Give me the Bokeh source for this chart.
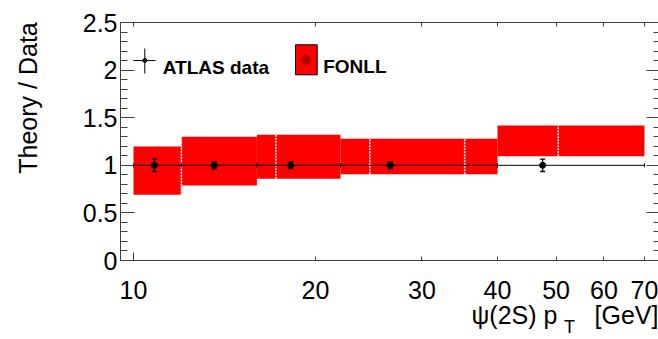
import numpy as np
from bokeh.plotting import figure
from bokeh.models import (FixedTicker, LinearAxis, LogAxis, Range1d, Label,
                          CustomJSTickFormatter, ColumnDataSource, Whisker, TeeHead)
from bokeh.embed import file_html
from bokeh.resources import INLINE

# ---------------- data ----------------
fonll_lo = [10, 12, 16, 22, 40]
fonll_hi = [12, 16, 22, 40, 70]
fonll_up = [1.197, 1.30, 1.32, 1.278, 1.418]
fonll_dn = [0.69, 0.788, 0.858, 0.905, 1.096]
fonll_seams = [12, 17.2, 24.6, 35.3, 50.4]

data_pt = [10.83, 13.6, 18.2, 26.6, 47.5]
data_lo = [10, 12, 16, 22, 40]
data_hi = [12, 16, 22, 40, 70]
data_ratio = [1.0, 1.0, 1.0, 1.0, 1.0]
data_err = [0.065, 0.037, 0.035, 0.035, 0.065]

x_ticks = [10, 20, 30, 40, 50, 60, 70]
y_ticks = [0, 0.5, 1, 1.5, 2, 2.5]
y_minor = [round(v, 2) for v in np.arange(0, 2.51, 0.1)]

y_title = "Theory / Data"
x_title_parts = ["\u03c8(2S) p", "[GeV]"]
x_title_sub = "T"

# ---------------- layout ----------------
W, H = 658, 339
DEC = 604.6  # px per decade
X0 = 10 ** (1 + (120 - 133) / DEC)
X1 = 10 ** (1 + (658 - 133) / DEC)
FONT = "Liberation Sans"
AX = "#404040"

p = figure(width=W, height=H, x_axis_type="log",
           x_range=Range1d(X0, X1), y_range=Range1d(0, 2.5),
           output_backend="svg", toolbar_location=None,
           min_border_left=120, min_border_right=0,
           min_border_top=22, min_border_bottom=79)
p.outline_line_color = None
p.grid.visible = False
p.background_fill_color = "white"
p.border_fill_color = "white"

fmt = CustomJSTickFormatter(code="return tick.toString();")
blank = CustomJSTickFormatter(code="return '';")


def dx(px):
    return 10 ** (1 + (px - 133) / DEC)


def dy(py):
    return (260 - py) / 95.2


# bottom axis
xa = p.xaxis[0]
xa.ticker = FixedTicker(ticks=x_ticks, minor_ticks=[10])
xa.formatter = fmt
xa.major_tick_in = 4
xa.major_tick_out = 0
xa.minor_tick_in = 8
xa.minor_tick_out = 0
xa.axis_line_color = AX
xa.major_tick_line_color = AX
xa.minor_tick_line_color = AX
xa.major_label_text_font = FONT
xa.major_label_text_font_size = "25px"
xa.major_label_text_color = "black"
xa.major_label_standoff = 20

# left axis
ya = p.yaxis[0]
ya.ticker = FixedTicker(ticks=y_ticks, minor_ticks=y_minor)
ya.formatter = fmt
ya.major_tick_in = 14
ya.major_tick_out = 0
ya.minor_tick_in = 7
ya.minor_tick_out = 0
ya.axis_line_color = AX
ya.major_tick_line_color = AX
ya.minor_tick_line_color = AX
ya.major_label_text_font = FONT
ya.major_label_text_font_size = "25px"
ya.major_label_text_color = "black"
ya.major_label_standoff = 3

# y-axis title: text-only axis, label centred on the upper part of the axis
yt_ax = LinearAxis(ticker=FixedTicker(ticks=[dy(97.5)], minor_ticks=[]),
                   formatter=CustomJSTickFormatter(args=dict(labels=[y_title]),
                                                   code="return labels[index];"),
                   major_tick_in=0, major_tick_out=0, minor_tick_in=0, minor_tick_out=0,
                   axis_line_color=None, major_tick_line_color=None, minor_tick_line_color=None,
                   major_label_orientation="vertical",
                   major_label_text_font=FONT, major_label_text_font_size="25px",
                   major_label_text_color="black", major_label_standoff=38)
p.add_layout(yt_ax, "left")

# top axis
ta = LogAxis(ticker=FixedTicker(ticks=x_ticks, minor_ticks=[]), formatter=blank,
             major_tick_in=4, major_tick_out=0, minor_tick_in=0, minor_tick_out=0,
             axis_line_color=AX, major_tick_line_color=AX,
             major_label_text_font_size="0px", major_label_standoff=0)
p.add_layout(ta, "above")

# right axis
ra = LinearAxis(ticker=FixedTicker(ticks=y_ticks, minor_ticks=y_minor), formatter=blank,
                major_tick_in=12, major_tick_out=0, minor_tick_in=5, minor_tick_out=0,
                axis_line_color=None, major_tick_line_color=AX, minor_tick_line_color=AX,
                major_label_text_font_size="0px", major_label_standoff=0)
p.add_layout(ra, "right")

# x-axis title pieces as text-only axes (subscript T, then main title)
sub_ax = LogAxis(ticker=FixedTicker(ticks=[dx(569)], minor_ticks=[]),
                 formatter=CustomJSTickFormatter(args=dict(labels=[x_title_sub]),
                                                 code="return labels[index];"),
                 major_tick_in=0, major_tick_out=0, minor_tick_in=0, minor_tick_out=0,
                 axis_line_color=None, major_tick_line_color=None, minor_tick_line_color=None,
                 major_label_text_font=FONT, major_label_text_font_size="18px",
                 major_label_text_color="black", major_label_standoff=15)
p.add_layout(sub_ax, "below")
ttl_ax = LogAxis(ticker=FixedTicker(ticks=[dx(514), dx(626)], minor_ticks=[]),
                 formatter=CustomJSTickFormatter(args=dict(labels=x_title_parts),
                                                 code="return labels[index];"),
                 major_tick_in=0, major_tick_out=0, minor_tick_in=0, minor_tick_out=0,
                 axis_line_color=None, major_tick_line_color=None, minor_tick_line_color=None,
                 major_label_text_font=FONT, major_label_text_font_size="25px",
                 major_label_text_color="black", major_label_standoff=-39)
p.add_layout(ttl_ax, "below")

# ---------------- FONLL band ----------------
p.quad(left=fonll_lo, right=fonll_hi, bottom=fonll_dn, top=fonll_up,
       fill_color="#ff0000", line_color=None)

seam_lo, seam_hi = [], []
for s in fonll_seams:
    idx = [i for i in range(len(fonll_lo)) if fonll_lo[i] <= s <= fonll_hi[i]]
    seam_lo.append(min(fonll_dn[i] for i in idx))
    seam_hi.append(max(fonll_up[i] for i in idx))
p.segment(x0=fonll_seams, x1=fonll_seams, y0=seam_lo, y1=seam_hi,
          line_color="white", line_width=1.6, line_dash="2 1", line_alpha=0.9)

# ---------------- ATLAS data ----------------
src = ColumnDataSource(dict(
    x=data_pt, y=data_ratio, xlo=data_lo, xhi=data_hi,
    up=[r + e for r, e in zip(data_ratio, data_err)],
    dn=[r - e for r, e in zip(data_ratio, data_err)]))
p.add_layout(Whisker(source=src, base="y", lower="xlo", upper="xhi", dimension="width",
                     level="overlay", line_color="black", line_width=1,
                     lower_head=TeeHead(size=4, line_color="black", line_width=1),
                     upper_head=TeeHead(size=4, line_color="black", line_width=1)))
p.add_layout(Whisker(source=src, base="x", lower="dn", upper="up", dimension="height",
                     level="overlay", line_color="black", line_width=1.3,
                     lower_head=TeeHead(size=5, line_color="black", line_width=1.3),
                     upper_head=TeeHead(size=5, line_color="black", line_width=1.3)))
p.scatter("x", "y", source=src, size=6, color="black", level="overlay")

# legend: ATLAS data
p.segment(x0=[dx(133)], x1=[dx(155)], y0=[dy(60)], y1=[dy(60)], line_color="black", line_width=1)
p.segment(x0=[dx(144.3)], x1=[dx(144.3)], y0=[dy(48)], y1=[dy(73)], line_color="black", line_width=1)
p.scatter(x=[dx(144.3)], y=[dy(60)], size=4, color="black")
p.add_layout(Label(x=dx(162.3), y=dy(67.3), text="ATLAS data", text_font=FONT,
                   text_font_size="19px", text_font_style="bold", text_color="black",
                   text_baseline="alphabetic", text_align="left"))
# legend: FONLL
p.quad(left=[dx(295)], right=[dx(316.7)], bottom=[dy(74.3)], top=[dy(44.3)],
       fill_color="#ff0000", line_color="black", line_width=1)
p.scatter(x=[dx(305.8)], y=[dy(59.3)], size=9, color="#b40000")
p.add_layout(Label(x=dx(322.7), y=dy(65.7), text="FONLL", text_font=FONT,
                   text_font_size="19px", text_font_style="bold", text_color="black",
                   text_baseline="alphabetic", text_align="left"))

open("out.html", "w").write(file_html(p, INLINE))
